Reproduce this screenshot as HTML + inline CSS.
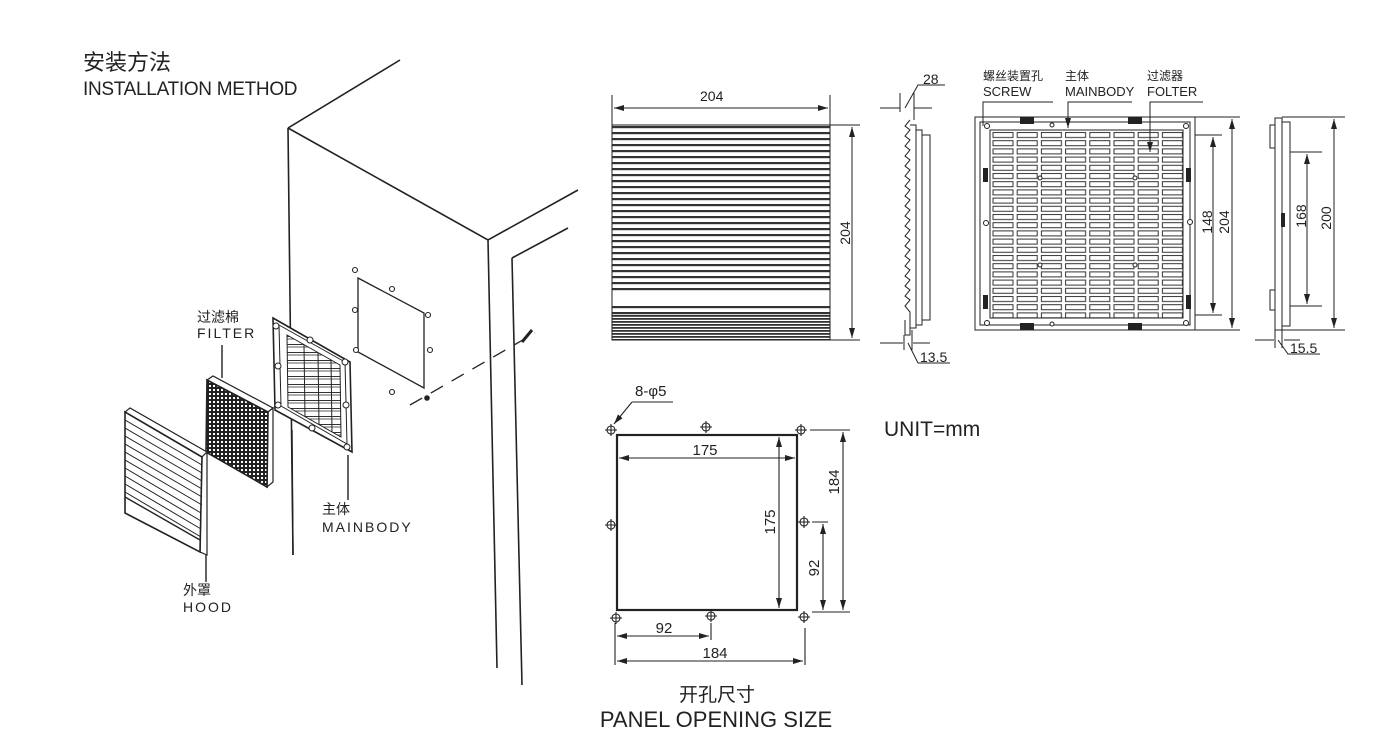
<!DOCTYPE html>
<html><head><meta charset="utf-8"><style>
html,body{margin:0;padding:0;background:#fff}
svg{display:block}
text{font-family:"Liberation Sans","Noto Sans CJK SC",sans-serif;fill:#222}
</style></head><body>
<svg width="1400" height="751" viewBox="0 0 1400 751" xmlns="http://www.w3.org/2000/svg">
<defs>
<pattern id="stripes" width="10" height="6" patternUnits="userSpaceOnUse"><rect width="10" height="6" fill="#fff"/><rect y="0" width="10" height="2.2" fill="#333"/></pattern>
<pattern id="stripes2" width="10" height="3" patternUnits="userSpaceOnUse"><rect width="10" height="3" fill="#fff"/><rect y="0" width="10" height="1.8" fill="#333"/></pattern>
<pattern id="dots" width="4" height="4" patternUnits="userSpaceOnUse"><rect width="4" height="4" fill="#222"/><rect x="1" y="1" width="2" height="2" fill="#fff"/></pattern>
<pattern id="slots" x="991" y="131" width="24.2" height="8.2" patternUnits="userSpaceOnUse"><rect width="24.2" height="8.2" fill="#fff"/><rect x="2" y="1.5" width="20" height="5" fill="#fff" stroke="#333" stroke-width="1"/></pattern>
<pattern id="louver" width="10" height="8" patternUnits="userSpaceOnUse"><rect width="10" height="8" fill="#fff"/><line x1="0" y1="0.5" x2="10" y2="0.5" stroke="#333" stroke-width="1"/><line x1="0" y1="3" x2="10" y2="3" stroke="#333" stroke-width="0.8"/></pattern>
<marker id="a" viewBox="0 0 10 6" refX="10" refY="3" markerWidth="10" markerHeight="6" orient="auto-start-reverse" markerUnits="userSpaceOnUse"><path d="M0,0 L10,3 L0,6z" fill="#222"/></marker>
<g id="h" stroke="#222" fill="none" stroke-width="1.1"><circle r="4"/><path d="M-6,0 L6,0 M0,-6 L0,6"/></g>
</defs>

<g stroke="#222" fill="none" stroke-width="1.6">
<path d="M288,128 L400,60 M288,128 L488,240 L578,190 M288,128 L293,555 M488,240 L497,668 M512,258 L568,228 M512,258 L522,685"/>
<path d="M358,278 L424,313 L424,388 L358,352 Z" stroke-width="1.3"/>
<g stroke-width="1.1" fill="#fff">
<circle cx="355" cy="270" r="2.5"/><circle cx="392" cy="289" r="2.5"/><circle cx="355" cy="310" r="2.5"/><circle cx="428" cy="315" r="2.5"/><circle cx="356" cy="350" r="2.5"/><circle cx="430" cy="350" r="2.5"/><circle cx="392" cy="392" r="2.5"/>
</g>
<path d="M410,405 L535,333" stroke-dasharray="14,10" stroke-width="1.3"/>
<path d="M522,342 L532,330" stroke-width="3"/>
<circle cx="427" cy="398" r="2" fill="#222"/>
<path d="M273,318 L350,362 L352,452 L275,410 Z" fill="#fff"/>
<path d="M279,325 L345,362 L347,444 L281,406 Z" stroke-width="1"/>
<path d="M287,335 L340,365 L341,437 L288,407 Z" fill="url(#louver)" stroke-width="1"/>
<path d="M304,345 L305,417 M318,353 L319,425 M331,360 L332,432" stroke-width="1"/>
<g stroke-width="1" fill="#fff"><circle cx="276" cy="326" r="3"/><circle cx="278" cy="366" r="3"/><circle cx="278" cy="405" r="3"/><circle cx="345" cy="362" r="3"/><circle cx="346" cy="405" r="3"/><circle cx="347" cy="447" r="3"/><circle cx="310" cy="340" r="3"/><circle cx="312" cy="428" r="3"/></g>
<path d="M348,455 L348,500 M292,430 L293,555" stroke-width="1.4"/>
<path d="M207,380 L213,376 L273,408 L268,412 Z" fill="#fff" stroke-width="1.2"/>
<path d="M268,412 L273,408 L273,482 L267,487 Z" fill="#fff" stroke-width="1.2"/>
<path d="M207,380 L268,412 L267,487 L206,452 Z" fill="url(#dots)"/>
<path d="M222,345 L222,378" stroke-width="1.4"/>
<path d="M125,412 L130,408 L207,452 L202,457 Z" fill="#fff" stroke-width="1.2"/>
<path d="M202,457 L207,452 L207,555 L200,552 Z" fill="#fff" stroke-width="1.2"/>
<path d="M125,412 L202,457 L200,552 L125,513 Z" fill="#fff"/>
<g stroke-width="1">
<path d="M125,420 L202,465 M125,428 L202,473 M125,436 L202,481 M125,444 L202,489 M125,452 L202,497 M125,460 L202,505 M125,468 L201,513 M125,476 L201,521 M125,484 L201,529 M125,492 L201,537"/>
<path d="M125,497 L200,540" stroke-width="1.4"/>
</g>
<path d="M206,555 L206,582" stroke-width="1.4"/>
</g>

<text x="83" y="70" font-size="22">安装方法</text>
<text x="83" y="95" font-size="19" letter-spacing="-0.3">INSTALLATION METHOD</text>
<text x="197" y="322" font-size="14">过滤棉</text>
<text x="197" y="338" font-size="14" letter-spacing="2">FILTER</text>
<text x="322" y="514" font-size="14">主体</text>
<text x="322" y="532" font-size="14" letter-spacing="2">MAINBODY</text>
<text x="183" y="595" font-size="14">外罩</text>
<text x="183" y="612" font-size="14" letter-spacing="2">HOOD</text>

<rect x="612" y="125" width="218" height="190" fill="url(#stripes)"/>
<rect x="612" y="292" width="218" height="12" fill="#fff"/>
<rect x="612" y="315" width="218" height="25" fill="url(#stripes2)"/>
<g stroke="#222" stroke-width="1" fill="none">
<rect x="612" y="125" width="218" height="215"/>
<path d="M612,95 L612,125 M830,95 L830,125 M830,125 L860,125 M830,340 L860,340"/>
<path d="M614,108 L828,108" marker-start="url(#a)" marker-end="url(#a)"/>
<path d="M852,127 L852,338" marker-start="url(#a)" marker-end="url(#a)"/>
<path d="M910,120 L905,126 L910,130 L905,136 L910,140 L905,146 L910,150 L905,156 L910,160 L905,166 L910,170 L905,176 L910,180 L905,186 L910,190 L905,196 L910,200 L905,206 L910,210 L905,216 L910,220 L905,226 L910,230 L905,236 L910,240 L905,246 L910,250 L905,256 L910,260 L905,266 L910,270 L905,276 L910,280 L905,286 L910,290 L905,296 L910,300 L905,306 L910,312 L910,335 L905,335 L905,320"/>
<path d="M910,125 L916,125 L916,328 L910,328 M916,130 L922,130 L922,325 L916,325 M922,135 L930,135 L930,320 L922,320"/>
<path d="M900,93 L900,112 M914,93 L914,120 M880,108 L900,108 M914,108 L932,108 M905,108 L918,85 L945,85"/>
<path d="M880,343 L903,343 M913,343 L930,343 M904,335 L904,350 M912,330 L912,350 M908,343 L918,363 L950,363"/>
<rect x="975" y="117" width="220" height="213"/>
<rect x="980" y="122" width="210" height="203"/>
</g>
<rect x="990" y="130" width="193" height="188" fill="url(#slots)" stroke="#222"/>
<g fill="#222"><rect x="1020" y="117" width="14" height="7"/><rect x="1128" y="117" width="14" height="7"/><rect x="1020" y="323" width="14" height="7"/><rect x="1128" y="323" width="14" height="7"/><rect x="983" y="168" width="5" height="14"/><rect x="983" y="295" width="5" height="14"/><rect x="1186" y="168" width="5" height="14"/><rect x="1186" y="295" width="5" height="14"/></g>
<g stroke="#222" stroke-width="1" fill="#fff"><circle cx="987" cy="126" r="2.5"/><circle cx="1186" cy="126" r="2.5"/><circle cx="987" cy="323" r="2.5"/><circle cx="1186" cy="323" r="2.5"/><circle cx="1052" cy="125" r="2"/><circle cx="1052" cy="324" r="2"/><circle cx="986" cy="223" r="2.5"/><circle cx="1190" cy="222" r="2.5"/><circle cx="1040" cy="178" r="2"/><circle cx="1135" cy="178" r="2"/><circle cx="1040" cy="265" r="2"/><circle cx="1135" cy="265" r="2"/></g>
<g stroke="#222" stroke-width="1" fill="none">
<path d="M983,126 L983,102 L1053,102 M1068,120 L1068,102 L1132,102 M1150,150 L1150,102 L1203,102"/>
<path d="M1068,112 L1068,128" marker-end="url(#a)"/>
<path d="M1150,130 L1150,152" marker-end="url(#a)"/>
<path d="M1195,135 L1222,135 M1195,315 L1222,315 M1195,117 L1240,117 M1195,330 L1240,330"/>
<path d="M1213,137 L1213,313" marker-start="url(#a)" marker-end="url(#a)"/>
<path d="M1232,119 L1232,328" marker-start="url(#a)" marker-end="url(#a)"/>
<path d="M1275,118 L1275,330 L1282,330 L1282,118 Z M1282,122 L1290,122 L1290,326 L1282,326 M1270,125 L1275,125 L1275,148 L1270,148 Z M1270,290 L1275,290 L1275,310 L1270,310 Z"/>
<path d="M1290,152 L1322,152 M1290,306 L1322,306 M1282,117 L1345,117 M1282,330 L1345,330"/>
<path d="M1307,154 L1307,304" marker-start="url(#a)" marker-end="url(#a)"/>
<path d="M1334,119 L1334,328" marker-start="url(#a)" marker-end="url(#a)"/>
<path d="M1255,340 L1274,340 M1284,340 L1300,340 M1275,330 L1275,348 M1282,330 L1282,348 M1278,340 L1288,354 L1320,354"/>
</g>
<rect x="1281" y="213" width="4" height="14" fill="#222"/>

<text x="700" y="101" font-size="14">204</text>
<text x="850" y="233" font-size="14" transform="rotate(-90 850 233)" text-anchor="middle">204</text>
<text x="923" y="84" font-size="14">28</text>
<text x="920" y="362" font-size="14">13.5</text>
<text x="983" y="80" font-size="12">螺丝装置孔</text>
<text x="983" y="96" font-size="13">SCREW</text>
<text x="1065" y="80" font-size="12">主体</text>
<text x="1065" y="96" font-size="13">MAINBODY</text>
<text x="1147" y="80" font-size="12">过滤器</text>
<text x="1147" y="96" font-size="13">FOLTER</text>
<text x="1212" y="222" font-size="14" transform="rotate(-90 1212 222)" text-anchor="middle">148</text>
<text x="1229" y="222" font-size="14" transform="rotate(-90 1229 222)" text-anchor="middle">204</text>
<text x="1306" y="216" font-size="14" transform="rotate(-90 1306 216)" text-anchor="middle">168</text>
<text x="1331" y="218" font-size="14" transform="rotate(-90 1331 218)" text-anchor="middle">200</text>
<text x="1290" y="353" font-size="14">15.5</text>

<g stroke="#222" fill="none">
<rect x="617" y="435" width="180" height="175" stroke-width="2.2"/>
<g stroke-width="1.1">
<path d="M619,458 L795,458" marker-start="url(#a)" marker-end="url(#a)"/>
<path d="M779,437 L779,608" marker-start="url(#a)" marker-end="url(#a)"/>
<path d="M810,430 L850,430 M812,612 L850,612 M812,522 L828,522"/>
<path d="M843,432 L843,610" marker-start="url(#a)" marker-end="url(#a)"/>
<path d="M823,524 L823,610" marker-start="url(#a)" marker-end="url(#a)"/>
<path d="M615,623 L615,665 M711,623 L711,640 M805,628 L805,665"/>
<path d="M617,636 L709,636" marker-start="url(#a)" marker-end="url(#a)"/>
<path d="M617,661 L803,661" marker-start="url(#a)" marker-end="url(#a)"/>
<path d="M673,402 L632,402"/>
<path d="M632,402 L614,424" marker-end="url(#a)"/>
</g>
</g>
<use href="#h" x="611" y="430"/><use href="#h" x="706" y="427"/><use href="#h" x="801" y="430"/><use href="#h" x="611" y="525"/><use href="#h" x="804" y="522"/><use href="#h" x="616" y="618"/><use href="#h" x="711" y="616"/><use href="#h" x="804" y="617"/>
<text x="635" y="396" font-size="15">8-φ5</text>
<text x="705" y="455" font-size="15" text-anchor="middle">175</text>
<text x="775" y="522" font-size="15" transform="rotate(-90 775 522)" text-anchor="middle">175</text>
<text x="839" y="482" font-size="15" transform="rotate(-90 839 482)" text-anchor="middle">184</text>
<text x="819" y="568" font-size="15" transform="rotate(-90 819 568)" text-anchor="middle">92</text>
<text x="664" y="633" font-size="15" text-anchor="middle">92</text>
<text x="715" y="658" font-size="15" text-anchor="middle">184</text>
<text x="884" y="436" font-size="21">UNIT=mm</text>
<text x="717" y="701" font-size="19" text-anchor="middle">开孔尺寸</text>
<text x="716" y="727" font-size="22" text-anchor="middle">PANEL OPENING SIZE</text>
</svg>
</body></html>
